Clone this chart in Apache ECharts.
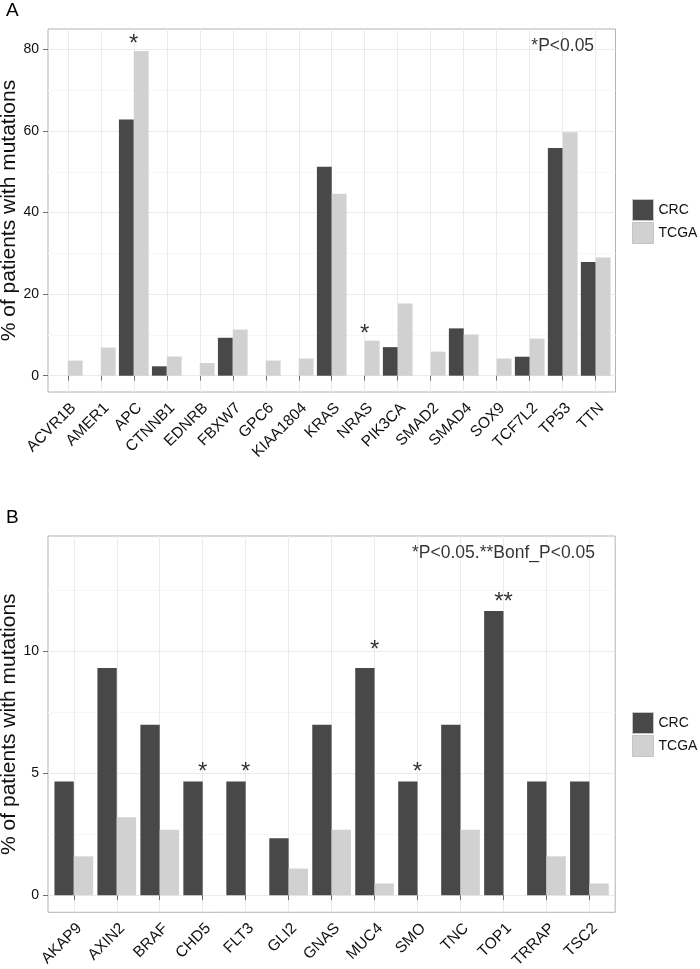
<!DOCTYPE html>
<html><head><meta charset="utf-8">
<script src="https://cdn.jsdelivr.net/npm/echarts@6/dist/echarts.min.js"></script>
<style>html,body{margin:0;padding:0;background:#fff}#c{width:700px;height:969px}</style>
</head><body><div id="c"></div>
<script>
// ---------- Panel A data ----------
const genesA = ['ACVR1B','AMER1','APC','CTNNB1','EDNRB','FBXW7','GPC6','KIAA1804','KRAS','NRAS','PIK3CA','SMAD2','SMAD4','SOX9','TCF7L2','TP53','TTN'];
const crcA  = [0, 0, 62.8, 2.3, 0, 9.3, 0, 0, 51.2, 0, 7.0, 0, 11.6, 0, 4.65, 55.8, 27.9];
const tcgaA = [3.7, 6.9, 79.6, 4.7, 3.1, 11.3, 3.7, 4.2, 44.6, 8.6, 17.7, 5.9, 10.1, 4.2, 9.1, 59.7, 29.0];
const yTicksA = [0, 20, 40, 60, 80];
const yMinorA = [10, 30, 50, 70];
const starsA_gene = ['APC', 'NRAS'];
const starsA_y = [81.3, 10.2];
const starsA_text = ['*', '*'];
const noteA_gene = 'TP53';
const noteA_y = 80.8;
const noteA_text = '*P<0.05';

// ---------- Panel B data ----------
const genesB = ['AKAP9','AXIN2','BRAF','CHD5','FLT3','GLI2','GNAS','MUC4','SMO','TNC','TOP1','TRRAP','TSC2'];
const crcB  = [4.65, 9.3, 6.98, 4.65, 4.65, 2.33, 6.98, 9.3, 4.65, 6.98, 11.63, 4.65, 4.65];
const tcgaB = [1.59, 3.19, 2.68, 0, 0, 1.09, 2.68, 0.48, 0, 2.68, 0, 1.59, 0.48];
const yTicksB = [0, 5, 10];
const yMinorB = [2.5, 7.5, 12.5];
const starsB_gene = ['CHD5', 'FLT3', 'MUC4', 'SMO', 'TOP1'];
const starsB_y = [5.03, 5.03, 10.0, 5.03, 12.0];
const starsB_text = ['*', '*', '*', '*', '**'];
const noteB_gene = 'TOP1';
const noteB_y = 14.0;
const noteB_text = '*P<0.05.**Bonf_P<0.05';

const seriesNames = ['CRC', 'TCGA'];
const yTitle = '% of patients with mutations';
const panelLabels = ['A', 'B'];

// ---------- styling ----------
const FONT = 'Liberation Sans, Arial, Helvetica, sans-serif';
const COL_CRC = '#484848', COL_TCGA = '#d1d1d1';
const BORDER = '#b3b3b3', MAJOR = '#ebebeb', MINOR = '#f7f7f7', TICK = '#6e6e6e', TXT = '#111';

const chart = echarts.init(document.getElementById('c'), null, {renderer: 'canvas'});

function xAxisFor(gi, genes) {
  const idx = genes.map((g, i) => i + 1);
  return {
    type: 'value', gridIndex: gi, min: 0.4, max: genes.length + 0.6,
    axisLine: {show: false},
    axisTick: {show: true, length: 5, customValues: idx, lineStyle: {color: TICK}},
    splitLine: {show: true, lineStyle: {color: MAJOR, width: 1}},
    axisLabel: {
      customValues: idx, rotate: 45, align: 'right', verticalAlign: 'top', margin: 8,
      fontSize: 15.5, fontFamily: FONT, color: TXT,
      formatter: v => genes[Math.round(v) - 1] || ''
    }
  };
}
function yAxisMain(gi, min, max, ticks) {
  return {
    type: 'value', gridIndex: gi, min: min, max: max, position: 'left',
    axisLine: {show: false},
    axisTick: {show: true, length: 5, customValues: ticks, lineStyle: {color: TICK}},
    splitLine: {show: true, lineStyle: {color: MAJOR, width: 1}},
    axisLabel: {customValues: ticks, margin: 9, fontSize: 14, fontFamily: FONT, color: TXT}
  };
}
function yAxisMinor(gi, min, max, ticks) {
  return {
    type: 'value', gridIndex: gi, min: min, max: max, position: 'left',
    axisLine: {show: false}, axisLabel: {show: false},
    axisTick: {show: false, customValues: ticks},
    splitLine: {show: true, lineStyle: {color: MINOR, width: 1}}
  };
}
function bars(genes, vals, name, color, xi, yi) {
  return {
    type: 'bar', name: name, xAxisIndex: xi, yAxisIndex: yi,
    barWidth: '45%', barGap: '0%',
    itemStyle: {color: color},
    data: vals.map((v, i) => [i + 1, v])
  };
}
function marks(genes, gs, ys, ts, size, xi, yi) {
  return {
    type: 'scatter', xAxisIndex: xi, yAxisIndex: yi, symbolSize: 1, z: 5,
    itemStyle: {color: 'rgba(0,0,0,0)'}, silent: true,
    label: {show: true, position: 'inside', fontSize: size, fontFamily: FONT, color: '#000',
      formatter: p => p.data.t},
    data: gs.map((g, i) => ({value: [genes.indexOf(g) + 1, ys[i]], t: ts[i]}))
  };
}
function legendAt(top) {
  return {
    orient: 'vertical', left: 627, top: top, itemWidth: 21, itemHeight: 21, itemGap: 1,
    icon: 'rect', data: seriesNames, selectedMode: false,
    itemStyle: {borderColor: '#c4c4c4', borderWidth: 1},
    textStyle: {fontSize: 14, fontFamily: FONT, color: TXT}
  };
}
function yTitleText(cy) {
  return {type: 'text', x: 9.5, y: cy, rotation: Math.PI / 2,
    style: {text: yTitle, align: 'center', verticalAlign: 'middle', fontSize: 21, fontFamily: FONT, fill: TXT}};
}

const gridA = {left: 48, top: 29, width: 567.5, height: 363};
const gridB = {left: 48, top: 536, width: 567.2, height: 376.3};

const option = {
  animation: false,
  backgroundColor: '#fff',
  grid: [gridA, gridB].map(g => Object.assign({show: true, borderColor: BORDER, borderWidth: 1,
    backgroundColor: '#fff', containLabel: false, outerBoundsMode: 'none'}, g)),
  xAxis: [xAxisFor(0, genesA), xAxisFor(1, genesB)],
  yAxis: [
    yAxisMain(0, -4, 85, yTicksA), yAxisMinor(0, -4, 85, yMinorA),
    yAxisMain(1, -0.7, 14.7, yTicksB), yAxisMinor(1, -0.7, 14.7, yMinorB)
  ],
  legend: [legendAt(194), legendAt(707)],
  graphic: [
    {type: 'text', left: 6, top: 1.5, style: {text: panelLabels[0], fontSize: 19, fontFamily: FONT, fill: '#000'}},
    {type: 'text', left: 6, top: 508, style: {text: panelLabels[1], fontSize: 19, fontFamily: FONT, fill: '#000'}},
    yTitleText(gridA.top + gridA.height / 2),
    yTitleText(gridB.top + gridB.height / 2)
  ],
  series: [
    bars(genesA, crcA, seriesNames[0], COL_CRC, 0, 0),
    bars(genesA, tcgaA, seriesNames[1], COL_TCGA, 0, 0),
    bars(genesB, crcB, seriesNames[0], COL_CRC, 1, 2),
    bars(genesB, tcgaB, seriesNames[1], COL_TCGA, 1, 2),
    marks(genesA, starsA_gene, starsA_y, starsA_text, 24, 0, 0),
    marks(genesA, [noteA_gene], [noteA_y], [noteA_text], 17.5, 0, 0),
    marks(genesB, starsB_gene, starsB_y, starsB_text, 24, 1, 2),
    marks(genesB, [noteB_gene], [noteB_y], [noteB_text], 17.5, 1, 2)
  ]
};
chart.setOption(option);
</script>
</body></html>
